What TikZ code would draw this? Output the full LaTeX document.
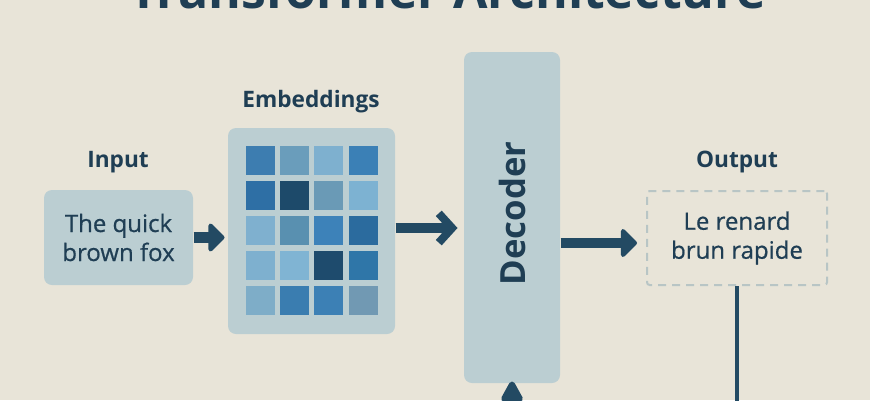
\documentclass[tikz,border=0pt]{standalone}
\usepackage{fontspec}
\setmainfont{Open Sans}
\newfontfamily\medfont[FakeBold=0.6]{Open Sans}
\usetikzlibrary{arrows.meta}

\definecolor{bgcream}{RGB}{232,228,216}
\definecolor{inkblue}{RGB}{31,62,84}
\definecolor{arrowblue}{RGB}{35,74,99}
\definecolor{boxblue}{RGB}{187,206,210}
\definecolor{dashgray}{RGB}{184,197,197}

\tikzset{every picture/.style={line width=0.75pt}}

\begin{document}
\begin{tikzpicture}[x=0.75pt,y=0.75pt,yscale=-1,xscale=1,
  box/.style={fill=boxblue, rounded corners=6pt, inner sep=0pt, align=center, text=inkblue, font=\medfont\fontsize{18}{21.75}\selectfont},
  caption/.style={text=inkblue, inner sep=0.75pt, font=\bfseries\fontsize{17}{20}\selectfont},
  flow/.style={draw=arrowblue, line width=8pt, -{Triangle[width=24.75pt,length=12.75pt,round]}},
  chevron/.style={draw=arrowblue, line width=8pt, -{Straight Barb[width=22pt,length=10pt,line width=6pt]}},
  cell/.style={minimum size=21.75pt, inner sep=0pt}]
%set diagram to 870 x 400
\useasboundingbox (0,0) rectangle (870,400);
\clip (0,0) rectangle (870,400);
\fill [bgcream] (0,0) rectangle (870,400);

% Title (cut by the top edge)
\node [anchor=base, text=inkblue, inner sep=0pt, font=\bfseries\fontsize{37.5}{42}\selectfont] (title) at (448,8) {Transformer Architecture};

% Text Node
\node [caption] (inlabel) at (118,162) {Input};
\node [caption] (emblabel) at (311,102) {Embeddings};
\node [caption] (outlabel) at (737,162) {Output};

%Shapes
\node [box, minimum width=111.75pt, minimum height=71.25pt] (input) at (118.5,237.5) {The quick\\brown fox};
\node [box, minimum width=125.25pt, minimum height=154.5pt] (emb) at (311.5,231) {};
\node [box, minimum width=72pt, minimum height=248.25pt] (dec) at (512,217.5) {};
\node [rotate=90, text=inkblue, font=\bfseries\fontsize{26}{30}\selectfont] (declabel) at ([yshift=-3pt]dec.center) {Decoder};
\node [box, fill=none, draw=dashgray, line width=1.5pt, dash pattern=on 6pt off 4.5pt, rounded corners=2pt, minimum width=135pt, minimum height=70.5pt] (output) at (737,238) {Le renard\\brun rapide};

% Embedding cells
\foreach \col [count=\k from 0] in {3D7DB0,6A9DBB,7EB0CF,3B80B6,
                                   2E6FA5,1D4A6A,6A9AB6,7DB2D2,
                                   7FB0CF,5990B0,3D82B9,2B6B9E,
                                   7EB0CF,80B4D3,1E4B6D,2F76A8,
                                   7EADC8,3A7DB0,3C80B5,7199B3}{
  \pgfmathtruncatemacro{\ci}{mod(\k,4)}
  \pgfmathtruncatemacro{\ri}{div(\k,4)}
  \definecolor{cellc}{HTML}{\col}
  \node [cell, fill=cellc] (cell\ri\ci) at (260.5+34.2*\ci,160.5+35*\ri) {};
}

% Arrows
\coordinate (feed) at (512,440);
\coordinate (drop) at (737,440);
\draw [flow, shorten >=2.25pt] (input.east) -- (input.east -| emb.west);
\draw [chevron, shorten >=4.5pt] ([yshift=-2.25pt]emb.east) -- ([yshift=-2.25pt]emb.east -| dec.west);
\draw [flow, shorten >=6.75pt] ([yshift=3.75pt]output.west -| dec.east) -- ([yshift=3.75pt]output.west);
\draw [flow, -{Triangle[width=18pt,length=18pt,round]}, shorten >=-1.5pt] (feed) -- (dec.south);
\draw [arrowblue, line width=3pt] (output.south) -- (drop);

\end{tikzpicture}
\end{document}
